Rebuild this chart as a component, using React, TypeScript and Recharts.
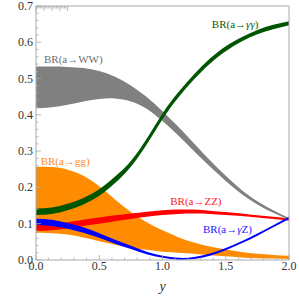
import { ComposedChart, Area, XAxis, YAxis, ReferenceDot, Label } from "recharts"

const xs = [0, 0.125, 0.25, 0.375, 0.5, 0.625, 0.75, 0.875, 1.0, 1.125, 1.25, 1.375, 1.5, 1.625, 1.75, 1.875, 2.0]

const wwLow = [0.418, 0.421, 0.428, 0.437, 0.444, 0.445, 0.437, 0.417, 0.383, 0.343, 0.3, 0.258, 0.218, 0.182, 0.153, 0.13, 0.111]
const wwHigh = [0.533, 0.533, 0.532, 0.529, 0.521, 0.505, 0.481, 0.449, 0.41, 0.367, 0.321, 0.275, 0.232, 0.193, 0.162, 0.137, 0.116]

const ggLow = [0.075, 0.074, 0.07, 0.062, 0.052, 0.042, 0.034, 0.028, 0.023, 0.02, 0.017, 0.013, 0.01, 0.007, 0.005, 0.004, 0.003]
const ggHigh = [0.257, 0.256, 0.249, 0.232, 0.203, 0.167, 0.132, 0.104, 0.082, 0.063, 0.048, 0.037, 0.029, 0.022, 0.017, 0.014, 0.012]

const zzLow = [0.08, 0.082, 0.087, 0.094, 0.1, 0.107, 0.113, 0.119, 0.124, 0.127, 0.128, 0.127, 0.124, 0.121, 0.117, 0.113, 0.108]
const zzHigh = [0.098, 0.099, 0.104, 0.111, 0.117, 0.123, 0.128, 0.133, 0.137, 0.139, 0.139, 0.136, 0.132, 0.128, 0.123, 0.119, 0.114]

const gzLow = [0.097, 0.094, 0.086, 0.075, 0.061, 0.045, 0.03, 0.016, 0.006, 0.001, 0.003, 0.012, 0.027, 0.046, 0.067, 0.09, 0.113]
const gzHigh = [0.114, 0.111, 0.102, 0.09, 0.074, 0.056, 0.039, 0.023, 0.012, 0.006, 0.008, 0.018, 0.033, 0.052, 0.073, 0.096, 0.119]

const aaLow = [0.124, 0.127, 0.137, 0.153, 0.177, 0.212, 0.257, 0.318, 0.388, 0.448, 0.498, 0.541, 0.575, 0.602, 0.622, 0.636, 0.647]
const aaHigh = [0.142, 0.145, 0.155, 0.171, 0.195, 0.23, 0.273, 0.334, 0.404, 0.462, 0.512, 0.555, 0.589, 0.614, 0.634, 0.648, 0.658]

const xMajor = [0, 0.5, 1.0, 1.5, 2.0]
const yMajor = [0, 0.1, 0.2, 0.3, 0.4, 0.5, 0.6, 0.7]

const labels = [
  { pre: "BR(a→WW)", greek: "", post: "", x: 0.063, y: 0.543, color: "#6e6e6e" },
  { pre: "BR(a→", greek: "γγ", post: ")", x: 1.39, y: 0.639, color: "#0b5a0b" },
  { pre: "BR(a→gg)", greek: "", post: "", x: 0.037, y: 0.262, color: "#ff8c1a" },
  { pre: "BR(a→ZZ)", greek: "", post: "", x: 1.061, y: 0.152, color: "#ff1a1a" },
  { pre: "BR(a→", greek: "γ", post: "Z)", x: 1.32, y: 0.074, color: "#1a1aff" },
]

const data = xs.map((x, i) => ({
  x,
  ww: [wwLow[i], wwHigh[i]],
  gg: [ggLow[i], ggHigh[i]],
  zz: [zzLow[i], zzHigh[i]],
  gz: [gzLow[i], gzHigh[i]],
  aa: [aaLow[i], aaHigh[i]],
}))

const xTicks: number[] = []
for (let i = 0; i <= 20; i++) xTicks.push(i / 10)
const yTicks: number[] = []
for (let i = 0; i <= 35; i++) yTicks.push(i / 50)

const font = "'Liberation Serif', 'DejaVu Serif', serif"
const frame = "#a8a8a8"

const isMajor = (v: number, list: number[]) => list.some((m) => Math.abs(m - v) < 1e-6)

function TickMark({ x, y, payload, side }: any) {
  const v = payload.value
  const major = side === "left" || side === "right" ? isMajor(v, yMajor) : isMajor(v, xMajor)
  const len = major ? 5 : 2.5
  if (side === "left") {
    return (
      <g>
        <line x1={x} y1={y} x2={x + len} y2={y} stroke={frame} strokeWidth={0.8} />
        {major && (
          <text x={x - 3} y={y + 4} textAnchor="end" fontSize={12} fontFamily={font} fill="#333">
            {v.toFixed(1)}
          </text>
        )}
      </g>
    )
  }
  if (side === "right") {
    return <line x1={x} y1={y} x2={x - len} y2={y} stroke={frame} strokeWidth={0.8} />
  }
  if (side === "top") {
    return <line x1={x} y1={y} x2={x} y2={y + len} stroke={frame} strokeWidth={0.8} />
  }
  return (
    <g>
      <line x1={x} y1={y} x2={x} y2={y - len} stroke={frame} strokeWidth={0.8} />
      {major && (
        <text x={x} y={y + 10} textAnchor="middle" fontSize={12} fontFamily={font} fill="#333">
          {v.toFixed(1)}
        </text>
      )}
    </g>
  )
}

function BandLabel({ cx, cy, item }: any) {
  return (
    <text x={cx} y={cy} fontSize={11} fontFamily={font} fill={item.color}>
      {item.pre}
      {item.greek && <tspan fontStyle="italic">{item.greek}</tspan>}
      {item.post}
    </text>
  )
}

export default function App() {
  return (
    <div style={{ position: "absolute", left: 0, top: 0 }}>
      <ComposedChart width={299} height={297} data={data} margin={{ top: 0, right: 0, bottom: 0, left: 0 }}>
        <XAxis
          dataKey="x"
          type="number"
          domain={[0, 2]}
          ticks={xTicks}
          interval={0}
          height={37}
          tickSize={0}
          tickMargin={0}
          tickLine={false}
          axisLine={{ stroke: frame }}
          tick={(p: any) => <TickMark {...p} side="bottom" />}
        >
          <Label
            value="y"
            position="insideBottom"
            offset={6}
            style={{ fontFamily: font, fontStyle: "italic", fontSize: 14, fill: "#333" }}
          />
        </XAxis>
        <XAxis
          xAxisId="top"
          orientation="top"
          type="number"
          domain={[0, 2]}
          ticks={xTicks}
          interval={0}
          height={6}
          tickSize={0}
          tickMargin={0}
          tickLine={false}
          axisLine={{ stroke: frame }}
          tick={(p: any) => <TickMark {...p} side="top" />}
        />
        <YAxis
          type="number"
          domain={[0, 0.7]}
          ticks={yTicks}
          interval={0}
          width={36}
          tickSize={0}
          tickMargin={0}
          tickLine={false}
          axisLine={{ stroke: frame }}
          tick={(p: any) => <TickMark {...p} side="left" />}
        />
        <YAxis
          yAxisId="right"
          orientation="right"
          type="number"
          domain={[0, 0.7]}
          ticks={yTicks}
          interval={0}
          width={10}
          tickSize={0}
          tickMargin={0}
          tickLine={false}
          axisLine={{ stroke: frame }}
          tick={(p: any) => <TickMark {...p} side="right" />}
        />
        <Area type="natural" dataKey="ww" stroke="none" fill="#808080" fillOpacity={1} isAnimationActive={false} dot={false} activeDot={false} />
        <Area type="natural" dataKey="gg" stroke="none" fill="#ff8c00" fillOpacity={1} isAnimationActive={false} dot={false} activeDot={false} />
        <Area type="natural" dataKey="zz" stroke="none" fill="#ff0000" fillOpacity={1} isAnimationActive={false} dot={false} activeDot={false} />
        <Area type="natural" dataKey="gz" stroke="none" fill="#0000ff" fillOpacity={1} isAnimationActive={false} dot={false} activeDot={false} />
        <Area type="natural" dataKey="aa" stroke="none" fill="#005500" fillOpacity={1} isAnimationActive={false} dot={false} activeDot={false} />
        {labels.map((item) => (
          <ReferenceDot
            key={item.pre + item.greek}
            x={item.x}
            y={item.y}
            r={0}
            shape={(p: any) => <BandLabel {...p} item={item} />}
          />
        ))}
      </ComposedChart>
    </div>
  )
}
